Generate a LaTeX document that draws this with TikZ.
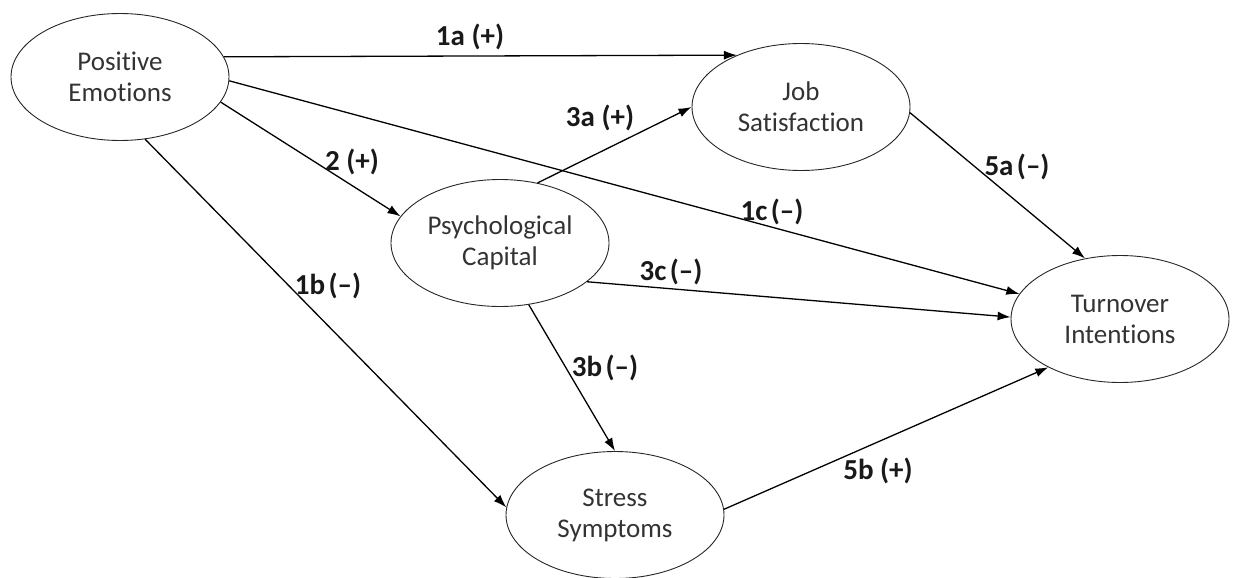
\documentclass[tikz,border=0pt]{standalone}
\usepackage{fontspec}
\setmainfont{Carlito}[Ligatures=CommonOff]
\usetikzlibrary{shapes.geometric,arrows.meta}
\begin{document}
\begin{tikzpicture}[x=1pt,y=-1pt,
  latent/.style={ellipse,draw=black!85,line width=0.9pt,minimum width=218pt,minimum height=127pt,inner sep=0pt,align=center,font=\fontsize{27}{31}\selectfont,text=black!80},
  path/.style={line width=1.3pt,-{Latex[length=13pt,width=9pt]}},
  lbl/.style={font=\fontsize{29}{31}\selectfont\bfseries,text=black!90,inner sep=1pt}]
\useasboundingbox (0,0) rectangle (1237,578);
\node[latent] (PE) at (120,77) {Positive\\Emotions};
\node[latent] (JS) at (801,107) {Job\\Satisfaction};
\node[latent] (PC) at (500,243) {Psychological\\Capital};
\node[latent] (TI) at (1120,319) {Turnover\\Intentions};
\node[latent] (SS) at (615,515) {Stress\\Symptoms};
\draw[path] (PE.11) -- (JS.141);
\draw[path] (PE.-2.6) -- (TI.166.8);
\draw[path] (PE.-14.6) -- (PC.165);
\draw[path] (PE.-68) -- (SS.176);
\draw[path] (PC.58) -- (JS.180);
\draw[path] (PC.-24.7) -- (TI.179);
\draw[path] (PC.-65) -- (SS.90);
\draw[path] (JS.-3) -- (TI.120);
\draw[path] (SS.3.6) -- (TI.214);
\node[lbl] (l1a) at (470,37) {1a (+)};
\node[lbl] (l2) at (352,162) {2 (+)};
\node[lbl] (l3a) at (600,118) {3a (+)};
\node[lbl] (l1c) at (772,212) {1c\hspace{0.12em}(--)};
\node[lbl] (l3c) at (671,272) {3c\hspace{0.12em}(--)};
\node[lbl] (l3b) at (605,368) {3b\hspace{0.12em}(--)};
\node[lbl] (l1b) at (328,286) {1b\hspace{0.12em}(--)};
\node[lbl] (l5a) at (1017,167) {5a\hspace{0.12em}(--)};
\node[lbl] (l5b) at (878,471) {5b (+)};
\end{tikzpicture}
\end{document}
